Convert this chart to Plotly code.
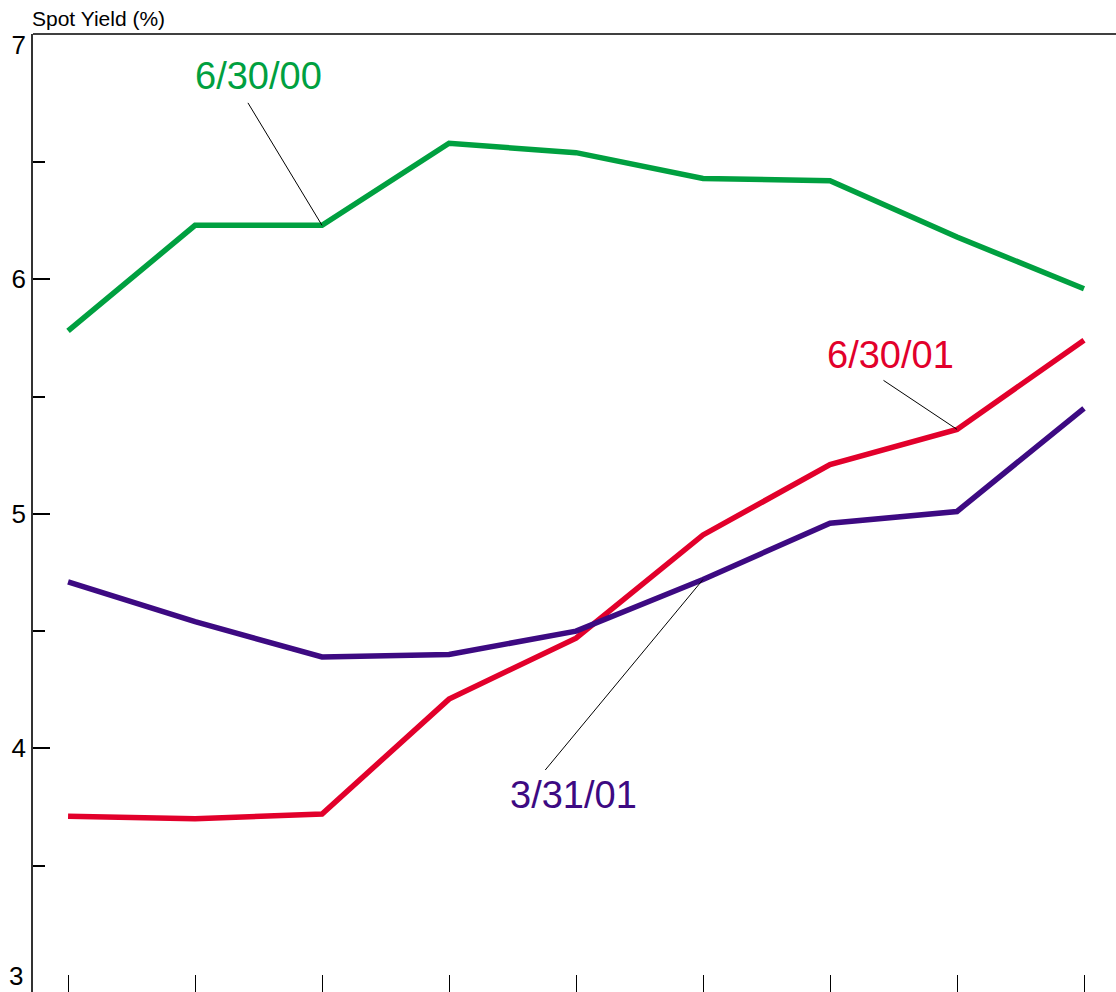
import plotly.graph_objects as go

# positions along the curve (no labels shown on the x axis)
maturity_pos = [1, 2, 3, 4, 5, 6, 7, 8, 9]

# spot yields (%)
yield_6_30_00 = [5.78, 6.23, 6.23, 6.58, 6.54, 6.43, 6.42, 6.18, 5.96]
yield_6_30_01 = [3.71, 3.70, 3.72, 4.21, 4.47, 4.91, 5.21, 5.36, 5.74]
yield_3_31_01 = [4.71, 4.54, 4.39, 4.40, 4.50, 4.72, 4.96, 5.01, 5.45]

y_tick_vals = [4, 5, 6, 7]
y_tick_text = ["4", "5", "6", "7"]
y_bottom_label = 3   # sits on the bottom edge, placed by hand so it is not clipped

# last series sits on the overlay axis (same range) so it is drawn on top
series = [
    ("6/30/00", yield_6_30_00, "#00A040", "y"),
    ("6/30/01", yield_6_30_01, "#E2002B", "y"),
    ("3/31/01", yield_3_31_01, "#3D0A82", "y2"),
]

FONT = "Liberation Sans, Arial, sans-serif"
Y_RANGE = [2.961, 7.046]

fig = go.Figure()
for name, vals, col, ax in series:
    fig.add_trace(go.Scatter(x=maturity_pos, y=vals, mode="lines", name=name,
                             yaxis=ax, line=dict(color=col, width=5.5)))

# labels: (text, colour, label x, label y, point index, values, arrow dx, arrow dy)
labels = [
    ("6/30/00", "#00A040", 2.5, 6.867, 2, yield_6_30_00, -75, -124),
    ("6/30/01", "#E2002B", 7.48, 5.677, 7, yield_6_30_01, -75, -50),
    ("3/31/01", "#3D0A82", 4.98, 3.80, 5, yield_3_31_01, -159, 192),
]
for txt, col, lx, ly, idx, vals, dx, dy in labels:
    fig.add_annotation(x=lx, y=ly, text=txt, showarrow=False,
                       font=dict(family=FONT, size=38, color=col))
    # thin leader line to the curve
    fig.add_annotation(x=maturity_pos[idx], y=vals[idx], text="", showarrow=True,
                       arrowhead=0, arrowwidth=1, arrowcolor="black",
                       ax=dx, ay=dy, axref="pixel", ayref="pixel")

fig.add_annotation(x=0, y=1, xref="paper", yref="paper", text="Spot Yield (%)",
                   showarrow=False, xanchor="left", yanchor="bottom",
                   xshift=-3, yshift=2,
                   font=dict(family=FONT, size=21, color="black"))

fig.add_annotation(x=0, y=y_bottom_label, xref="paper", yref="y",
                   text=str(y_bottom_label), showarrow=False, xanchor="right",
                   yanchor="middle", xshift=-8, yshift=7,
                   font=dict(family=FONT, size=26, color="black"))

# top frame line
fig.add_shape(type="line", xref="paper", yref="paper", x0=0, x1=1, y0=1, y1=1,
              line=dict(color="black", width=1.5))

fig.update_layout(
    width=1116, height=992,
    margin=dict(l=33, r=0, t=34, b=0, autoexpand=False),
    plot_bgcolor="white", paper_bgcolor="white",
    showlegend=False,
    font=dict(family=FONT, color="black"),
    xaxis=dict(range=[0.724, 9.252], showgrid=False, zeroline=False, showline=False,
               tickvals=maturity_pos, ticks="inside", ticklen=17, tickwidth=1,
               tickcolor="black", showticklabels=False, automargin=False),
    yaxis=dict(range=Y_RANGE, showgrid=False, zeroline=False, showline=True,
               linecolor="#333333", linewidth=1.5, tickvals=y_tick_vals,
               ticktext=y_tick_text, ticks="", ticklabelstandoff=0,
               automargin=False,
               tickfont=dict(family=FONT, size=26, color="black")),
    yaxis2=dict(range=Y_RANGE, overlaying="y", side="left", showgrid=False,
                zeroline=False, showline=False, showticklabels=False,
                automargin=False,
                tickvals=[4, 5, 6], ticks="inside", ticklen=17, tickwidth=1.5,
                tickcolor="black",
                minor=dict(tickvals=[3.5, 4.5, 5.5, 6.5], ticks="inside",
                           ticklen=12, tickwidth=1.5, tickcolor="black")),
)

# drop the default page margin so the figure fills the window exactly
fig.write_html("out.html", config={"displayModeBar": False},
               post_script="document.body.style.margin='0';"
                           "document.body.style.overflow='hidden';")
